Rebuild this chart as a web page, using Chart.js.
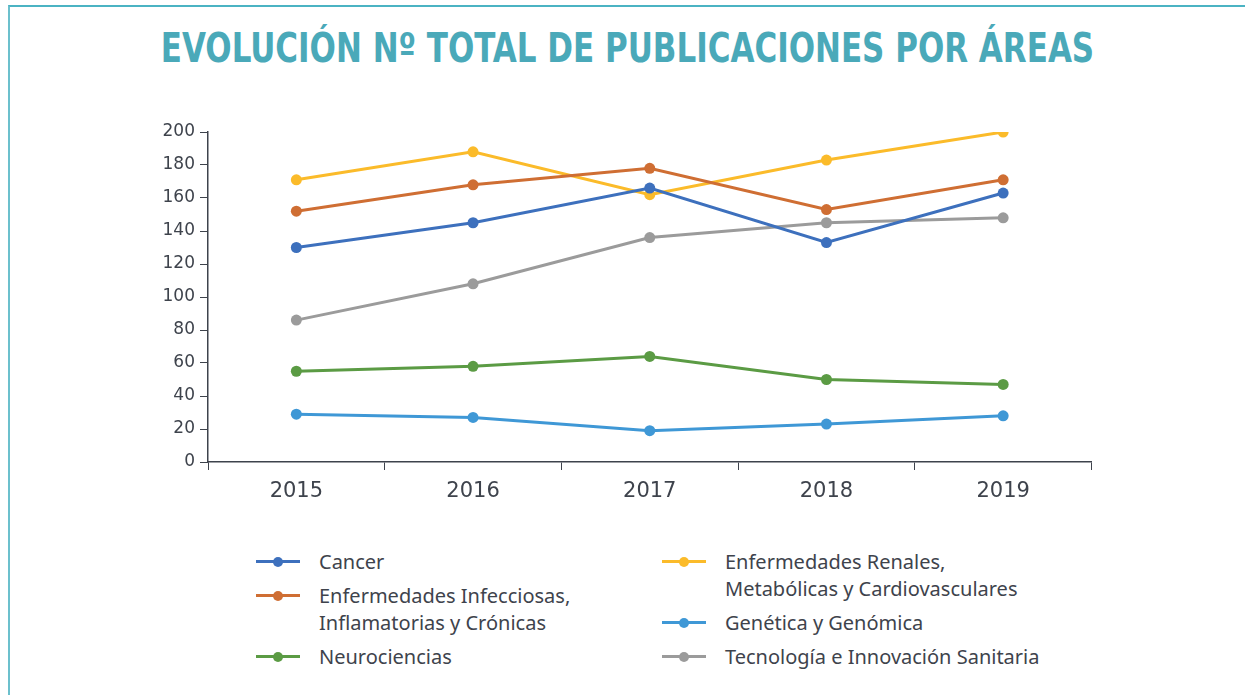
<!DOCTYPE html>
<html>
<head>
<meta charset="utf-8">
<script src="https://cdn.jsdelivr.net/npm/chart.js@4"></script>
<style>
    html, body { margin: 0; padding: 0; background: #fff; }
    body { width: 1245px; height: 695px; position: relative; overflow: hidden; }
    .frame { position: absolute; left: 8px; top: 5px; right: -10px; bottom: -10px;
        border-top: 2px solid #4bb3c3; border-left: 2px solid #6cc0cd; }
    h1 { position: absolute; left: 0; width: 1255px; top: 24px; margin: 0; text-align: center;
        font-family: "DejaVu Sans Condensed", "DejaVu Sans"; font-weight: bold; font-size: 41px;
        color: #4aa9b9; letter-spacing: 0; transform: scaleX(0.84); transform-origin: 627.5px 0; }
    #chartBox { position: absolute; left: 140px; top: 115px; width: 957px; height: 392px; }
    .legend { position: absolute; top: 548px; font-family: "Noto Sans"; font-size: 20px; color: #3e434c; }
    .legend .item { display: flex; margin-bottom: 7px; }
    .legend .mark { position: relative; width: 44px; height: 27px; margin-right: 19px; flex: none; }
    .legend .mark .ln { position: absolute; left: 0; right: 0; top: 12px; height: 3px; }
    .legend .mark .dot { position: absolute; left: 17px; top: 8.5px; width: 10px; height: 10px; border-radius: 50%; }
    .legend .txt { line-height: 27px; }
</style>
</head>
<body>
<div class="frame"></div>
<h1>EVOLUCIÓN Nº TOTAL DE PUBLICACIONES POR ÁREAS</h1>
<div id="chartBox"><canvas id="chart"></canvas></div>
<div class="legend" id="legLeft" style="left:256px"></div>
<div class="legend" id="legRight" style="left:662px"></div>
<script>
    const years = ['2015', '2016', '2017', '2018', '2019'];

    const cancer = [130, 145, 166, 133, 163];
    const infecciosas = [152, 168, 178, 153, 171];
    const neurociencias = [55, 58, 64, 50, 47];
    const renales = [171, 188, 162, 183, 200];
    const genetica = [29, 27, 19, 23, 28];
    const tecnologia = [86, 108, 136, 145, 148];

    const yTicks = [0, 20, 40, 60, 80, 100, 120, 140, 160, 180, 200];

    const series = [
        { label: ['Cancer'], data: cancer, color: '#3d70bd', col: 0 },
        { label: ['Enfermedades Infecciosas,', 'Inflamatorias y Crónicas'], data: infecciosas, color: '#cf6e33', col: 0 },
        { label: ['Neurociencias'], data: neurociencias, color: '#5b9b44', col: 0 },
        { label: ['Enfermedades Renales,', 'Metabólicas y Cardiovasculares'], data: renales, color: '#fbbb2a', col: 1 },
        { label: ['Genética y Genómica'], data: genetica, color: '#3f98d6', col: 1 },
        { label: ['Tecnología e Innovación Sanitaria'], data: tecnologia, color: '#9b9b9b', col: 1 }
    ];

    const axisColor = '#3e434c';

    const datasets = series.map(s => ({
        label: s.label.join(' '),
        data: s.data,
        borderColor: s.color,
        backgroundColor: s.color,
        pointBackgroundColor: s.color,
        pointBorderWidth: 0,
        pointRadius: 5.5,
        borderWidth: 3,
        tension: 0
    }));

    const ctx = document.getElementById('chart').getContext('2d');
    const chart = new Chart(ctx, {
        type: 'line',
        data: { labels: years, datasets: datasets },
        options: {
            responsive: true,
            maintainAspectRatio: false,
            animation: false,
            layout: { padding: { top: 17, right: 1, left: 0, bottom: 0 } },
            plugins: {
                legend: { display: false },
                tooltip: { enabled: false }
            },
            scales: {
                x: {
                    offset: true,
                    grid: { display: true, drawOnChartArea: false, offset: true, tickLength: 8, color: axisColor },
                    border: { color: axisColor, width: 1.5 },
                    ticks: { color: axisColor, font: { family: 'DejaVu Sans', size: 21 }, padding: 9 },
                    afterFit: scale => { scale.height = 45; }
                },
                y: {
                    min: 0,
                    max: 200,
                    afterBuildTicks: scale => { scale.ticks = yTicks.map(v => ({ value: v })); },
                    grid: { display: true, drawOnChartArea: false, tickLength: 8, color: axisColor },
                    border: { color: axisColor, width: 1.5 },
                    ticks: { color: axisColor, font: { family: 'DejaVu Sans', size: 17 }, padding: 5 },
                    afterFit: scale => { scale.width = 68; }
                }
            }
        }
    });

    // legend in two columns, built from the datasets
    series.forEach(s => {
        const box = document.getElementById(s.col === 0 ? 'legLeft' : 'legRight');
        const item = document.createElement('div');
        item.className = 'item';
        item.innerHTML = '<div class="mark"><div class="ln" style="background:' + s.color + '"></div>' +
            '<div class="dot" style="background:' + s.color + '"></div></div>' +
            '<div class="txt">' + s.label.join('<br>') + '</div>';
        box.appendChild(item);
    });
</script>
</body>
</html>
